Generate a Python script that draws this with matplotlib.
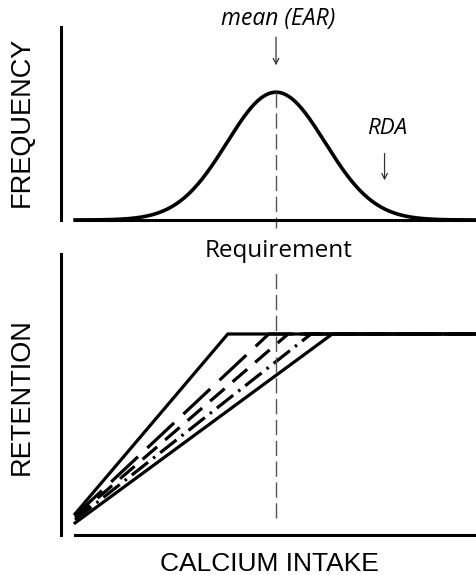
import numpy as np
import matplotlib.pyplot as plt

# requirement distribution (arbitrary intake units)
mean_ear = 5.0
sd_req = 1.22
rda = 7.7
x_max = 10.0

# retention vs intake: lines fan out from near the origin and bend
# onto the common plateau at a different intake
plateau = 1.0
starts = [0.105, 0.096, 0.087, 0.076, 0.06]
bends = [3.8, 4.82, 5.3, 5.87, 6.4]

line_styles = ['-', (0, (11.5, 4)), (0, (6, 3.3)), (0, (6.5, 2, 0.8, 2)), '-']
grey_dash = (0, (11, 4))

W, H = 477, 575
fig = plt.figure(figsize=(W / 100, H / 100), dpi=100)


def frac(px, py):
    return px / W, 1 - py / H


def clean(ax):
    ax.spines[['top', 'right']].set_visible(False)
    ax.spines['left'].set_linewidth(2.2)
    ax.spines['bottom'].set_linewidth(2.2)
    ax.spines['bottom'].set_bounds(0, x_max)
    ax.set_xticks([])
    ax.set_yticks([])
    ax.set_xlim(-0.35, x_max)


# --- top: distribution of requirements
ax1 = fig.add_axes([61 / W, 1 - 220 / H, 1 - 61 / W, 193 / H])
clean(ax1)
ax1.set_ylim(0, 1.51)

xs = np.linspace(0, x_max, 500)
freq = np.exp(-0.5 * ((xs - mean_ear) / sd_req) ** 2)
ax1.plot(xs, freq, color='black', lw=2.6, clip_on=False)
ax1.plot([mean_ear, mean_ear], [1.0, -0.06], color='#555555', lw=1.0,
         ls=grey_dash, clip_on=False)

ax1.annotate('', xy=(mean_ear, 1.21), xytext=(mean_ear, 1.43),
             arrowprops=dict(arrowstyle='->', lw=0.9, color='#333333',
                             shrinkA=0, shrinkB=0))
ax1.annotate('', xy=(rda, 0.31), xytext=(rda, 0.52),
             arrowprops=dict(arrowstyle='->', lw=0.9, color='#333333',
                             shrinkA=0, shrinkB=0))

# --- bottom: retention vs intake
ax2 = fig.add_axes([61 / W, 1 - 535 / H, 1 - 61 / W, 281 / H])
clean(ax2)
ax2.set_ylim(0, 1.398)

for y0, b, st in zip(starts, bends, line_styles):
    ax2.plot([0, b, x_max], [y0, plateau, plateau], color='black',
             lw=2.3, ls=st, solid_joinstyle='miter', clip_on=False)
ax2.plot([mean_ear, mean_ear], [0.085, 1.308], color='#555555', lw=1.0,
         ls=grey_dash)

# --- text
lab = dict(family='Liberation Sans', color='black')
fig.text(*frac(22, 122), 'FREQUENCY', rotation=90, ha='center', va='center',
         fontsize=19.5, **lab)
fig.text(*frac(22, 397), 'RETENTION', rotation=90, ha='center', va='center',
         fontsize=19.5, **lab)
fig.text(*frac(269, 564), 'CALCIUM INTAKE', ha='center', va='center',
         fontsize=19, **lab)
fig.text(*frac(279, 251), 'Requirement', ha='center', va='center',
         fontsize=17.5, family='Open Sans')
fig.text(*frac(278, 19), 'mean (EAR)', ha='center', va='center',
         fontsize=16.5, style='italic', family='Open Sans')
fig.text(*frac(387, 129), 'RDA', ha='center', va='center',
         fontsize=16, style='italic', family='Open Sans')

fig.savefig('out.png', dpi=100)
